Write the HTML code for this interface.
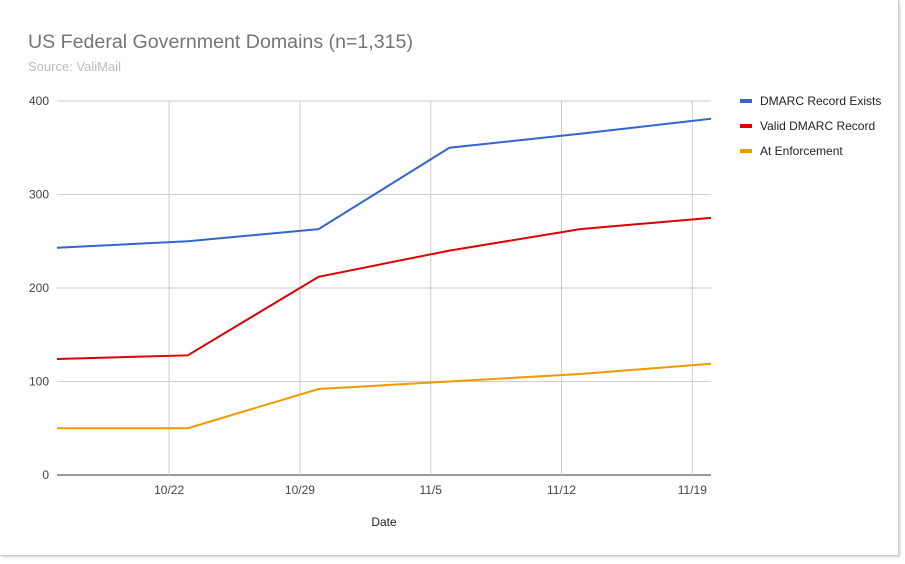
<!DOCTYPE html>
<html><head><meta charset="utf-8"><style>
body{margin:0;width:905px;height:559px;background:#fff;overflow:hidden;font-family:"Liberation Sans",Roboto,sans-serif;}
#card{position:absolute;left:0;top:0;width:898px;height:555px;background:#fff;border-right:1px solid #ccc;border-bottom:1px solid #ccc;box-shadow:1px 1px 3px rgba(0,0,0,.2);}
</style></head><body>
<div id="card">
<svg id="chart" width="905" height="559">
<text x="28" y="48" font-size="19.6" fill="#757575">US Federal Government Domains (n=1,315)</text>
<text x="28" y="71" font-size="13" fill="#bdbdbd">Source: ValiMail</text>
<g id="grid"></g><g id="lines"></g><g id="legend"></g>
<text x="384" y="526" font-size="12" fill="#222" text-anchor="middle">Date</text>
</svg></div>
<script>
const dayOffsets=[0,7,14,21,28,35];
const blueVals=[243,250,263,350,365,381];
const redVals=[124,128,212,240,263,275];
const orangeVals=[50,50,92,100,108,119];
const seriesNames=["DMARC Record Exists","Valid DMARC Record","At Enforcement"];
const yTicks=[0,100,200,300,400];
const xTickLabels=["10/22","10/29","11/5","11/12","11/19"];
const xTickDays=[6,13,20,27,34];
const NS="http://www.w3.org/2000/svg";
const L=57,R=711,T=101,B=475,maxDay=35,maxY=400;
const x=d=>L+d/maxDay*(R-L);
const y=v=>B-v/maxY*(B-T);
function mk(tag,attrs,parent){const e=document.createElementNS(NS,tag);for(const k in attrs)e.setAttribute(k,attrs[k]);parent.appendChild(e);return e;}
const grid=document.getElementById('grid');
yTicks.forEach(v=>{
 const l=mk('line',{x1:L,x2:R,y1:y(v),y2:y(v),stroke:v===0?'#333':'#ccc','stroke-width':1},grid);
 
 
 const t=mk('text',{x:49,y:y(v)+4,'font-size':12,fill:'#444','text-anchor':'end'},grid);
 t.textContent=v;
 
 
});
xTickDays.forEach((d,i)=>{
 const l=mk('line',{x1:x(d),x2:x(d),y1:T,y2:B,stroke:'#ccc','stroke-width':1},grid);
 
 
 const t=mk('text',{x:x(d),y:494,'font-size':12,fill:'#444','text-anchor':'middle'},grid);
 t.textContent=xTickLabels[i];
 
 
});
const series=[[blueVals,'#3366cc'],[redVals,'#dc0000'],[orangeVals,'#f29900']];
const lines=document.getElementById('lines');
const leg=document.getElementById('legend');
series.forEach(([vals,c],i)=>{
 const p=mk('polyline',{points:vals.map((v,j)=>x(dayOffsets[j])+','+y(v)).join(' '),fill:'none',stroke:c,'stroke-width':2},lines);
 
 
 const ly=101+i*25;
 const r=mk('rect',{x:740,y:ly-2,width:12,height:4,fill:c},leg);
 
 
 const t=mk('text',{x:760,y:ly+4,'font-size':12,fill:'#222'},leg);
 t.textContent=seriesNames[i];
 
 
});
</script>
</body></html>
